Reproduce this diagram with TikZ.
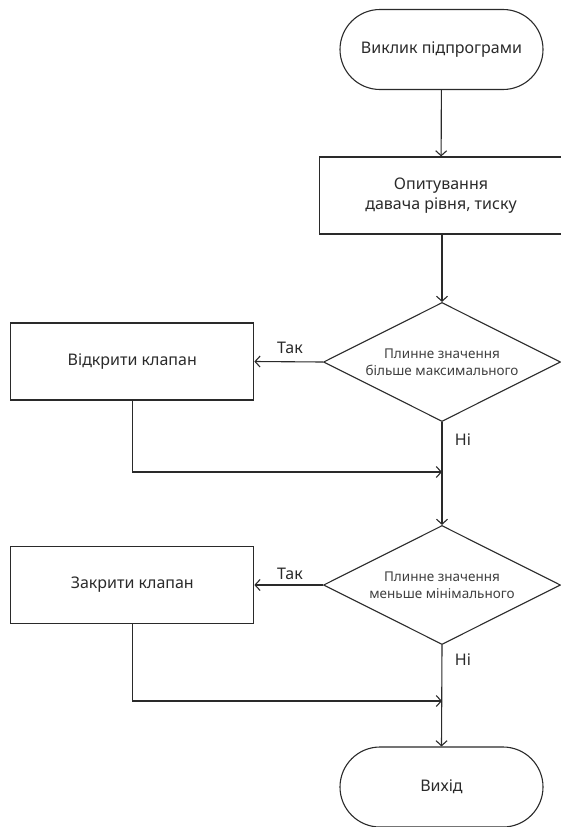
\documentclass[tikz,border=0pt]{standalone}
\usepackage{fontspec}
\setmainfont{Noto Sans}
\usetikzlibrary{shapes.geometric,arrows.meta}
\definecolor{ink}{HTML}{2A2A2A}
\definecolor{dink}{HTML}{404040}
\tikzset{
  every node/.style={text=ink},
  term/.style={draw=ink, line width=1.1pt, rectangle, rounded corners=40pt, minimum width=203pt, minimum height=80pt, inner sep=0pt, font=\fontsize{16}{19}\selectfont, align=center},
  proc/.style={draw=ink, line width=1.1pt, rectangle, minimum width=243pt, minimum height=77pt, inner sep=0pt, font=\fontsize{16}{20}\selectfont, align=center},
  dec/.style={draw=ink, line width=1.1pt, diamond, aspect=2, minimum width=237pt, minimum height=119pt, inner sep=0pt, text=dink, font=\fontsize{13.5}{17.5}\selectfont, align=center},
  conn/.style={draw=ink, line width=1.1pt, -{Straight Barb[length=5pt,width=11pt]}},
  lbl/.style={font=\fontsize{16}{19}\selectfont, inner sep=0pt}
}
\begin{document}
\begin{tikzpicture}[x=1pt,y=-1pt]
\useasboundingbox (0,0) rectangle (561,827);
\node[term] (start) at (441.5,49.5) {Виклик підпрограми};
\node[proc] (poll) at (441,195.5) {Опитування\\давача рівня, тиску};
\node[dec] (d1) at (442,362) {Плинне значення\\більше максимального};
\node[proc] (open) at (132.3,361.5) {Відкрити клапан};
\node[dec] (d2) at (442,585) {Плинне значення\\меньше мінімального};
\node[proc] (close) at (132.3,585) {Закрити клапан};
\node[term] (exit) at (441.5,787) {Вихід};
\coordinate (j1) at (442,472);
\coordinate (j2) at (442,701);
\draw[conn] (start) -- (poll);
\draw[conn] (poll.south -| d1.north) -- (d1.north);
\draw[conn] (d1.west) -- (open.east);
\draw[conn] (d1.south) -- (d2.north);
\draw[conn] (open.south) |- (j1);
\draw[conn] (d2.west) -- (close.east);
\draw[conn] (d2.south) -- (exit.north);
\draw[conn] (close.south) |- (j2);
\node[lbl] (t1) at (290,348) {Так};
\node[lbl] (n1) at (463,440) {Ні};
\node[lbl] (t2) at (290,574) {Так};
\node[lbl] (n2) at (463,660) {Ні};
\end{tikzpicture}
\end{document}
